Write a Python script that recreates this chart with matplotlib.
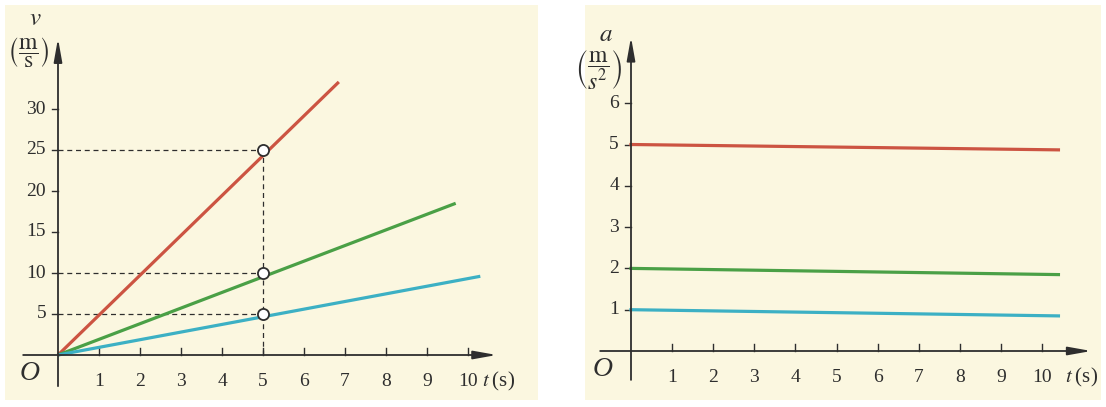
import matplotlib

matplotlib.use("Agg")

import matplotlib.pyplot as plt

# values
v_series = ["red", "green", "blue"]
v_end_t = [6.85, 9.7, 10.3]
v_end_v = [33.3, 18.5, 9.6]
mark_t = 5
mark_v = [25, 10, 5]
v_ticks = [5, 10, 15, 20, 25, 30]

a_t = [0, 10.4]
a_red = [5.0, 4.87]
a_green = [2.0, 1.85]
a_blue = [1.0, 0.85]
a_ticks = [1, 2, 3, 4, 5, 6]
t_ticks = [1, 2, 3, 4, 5, 6, 7, 8, 9, 10]

COLORS = {"red": "#cc5442", "green": "#4aa046", "blue": "#3cb0c4"}
BG = "#fbf7e0"
INK = "#2e2e2e"

plt.rcParams["font.family"] = ["Liberation Serif", "DejaVu Serif"]
plt.rcParams["mathtext.fontset"] = "stix"

W, H = 1106, 407
fig = plt.figure(figsize=(W / 100, H / 100), dpi=100)
fig.patch.set_facecolor("white")


def make_axes(x0, x1, y0, y1, ox, oy, sx, sy):
    # pixel box (x0..x1, y0..y1 from top), origin at pixel (ox, oy), scales px/unit
    ax = fig.add_axes([x0 / W, (H - y1) / H, (x1 - x0) / W, (y1 - y0) / H])
    ax.set_xlim((x0 - ox) / sx, (x1 - ox) / sx)
    ax.set_ylim((oy - y1) / sy, (oy - y0) / sy)
    ax.set_facecolor(BG)
    ax.set_xticks([])
    ax.set_yticks([])
    for s in ax.spines.values():
        s.set_visible(False)
    return ax, 1.0 / sx, 1.0 / sy


def draw_axes(ax, xpx, ypx, xmin, xmax, ymin, ymax, yticks, tlabel_x):
    arrow = dict(arrowstyle="-|>,head_length=1.4,head_width=0.25",
                 color=INK, lw=1.3, shrinkA=0, shrinkB=0)
    ax.annotate("", xy=(xmax, 0), xytext=(xmin, 0), arrowprops=arrow)
    ax.annotate("", xy=(0, ymax), xytext=(0, ymin), arrowprops=arrow)
    for t in t_ticks:
        ax.plot([t, t], [0, 7 * ypx], color=INK, lw=1)
        ax.text(t, -26 * ypx, str(t), ha="center", va="center", fontsize=14, color=INK)
    for v in yticks:
        ax.plot([-6 * xpx, 0], [v, v], color=INK, lw=1)
        ax.text(-12 * xpx, v, str(v), ha="right", va="center", fontsize=14, color=INK)
    ax.text(-28 * xpx, -18 * ypx, "O", ha="center", va="center", fontsize=20,
            style="italic", color=INK)
    ax.text(tlabel_x, -26 * ypx, r"$t\;$(s)", ha="left", va="center",
            fontsize=15, color=INK)


# left panel: velocity
ax1, xpx, ypx = make_axes(5, 538, 5, 400, 58, 355, 41.0, 8.2)
draw_axes(ax1, xpx, ypx, -0.85, 10.7, -3.8, 38.6, v_ticks, 10.35)

for v in mark_v:
    ax1.plot([0, mark_t], [v, v], color=INK, lw=0.9, ls=(0, (4, 3)))
ax1.plot([mark_t, mark_t], [0, max(mark_v)], color=INK, lw=0.9, ls=(0, (4, 3)))
for name, te, ve in zip(v_series, v_end_t, v_end_v):
    ax1.plot([0, te], [0, ve], color=COLORS[name], lw=2.3, solid_capstyle="butt")
ax1.plot([mark_t] * len(mark_v), mark_v, "o", ms=8, mfc="white", mec=INK, mew=1.3, zorder=5)
ax1.text(-0.55, 41.0, "$v$", ha="center", va="center", fontsize=18, color=INK)
ax1.text(-0.72, 36.8, r"$\left(\dfrac{\mathrm{m}}{\mathrm{s}}\right)$", ha="center",
         va="center", fontsize=17, color=INK)

# right panel: acceleration
ax2, xpx, ypx = make_axes(585, 1101, 5, 400, 631, 351, 41.1, 41.3)
draw_axes(ax2, xpx, ypx, -0.75, 11.2, -0.7, 7.6, a_ticks, 10.55)
ax2.plot(a_t, a_red, color=COLORS["red"], lw=2.3)
ax2.plot(a_t, a_green, color=COLORS["green"], lw=2.3)
ax2.plot(a_t, a_blue, color=COLORS["blue"], lw=2.3)
ax2.text(-0.62, 7.65, "$a$", ha="center", va="center", fontsize=18, color=INK)
ax2.text(-0.78, 6.8, r"$\left(\dfrac{\mathrm{m}}{s^{2}}\right)$", ha="center",
         va="center", fontsize=17, color=INK)

fig.savefig("out.png", dpi=100, facecolor=fig.get_facecolor())
